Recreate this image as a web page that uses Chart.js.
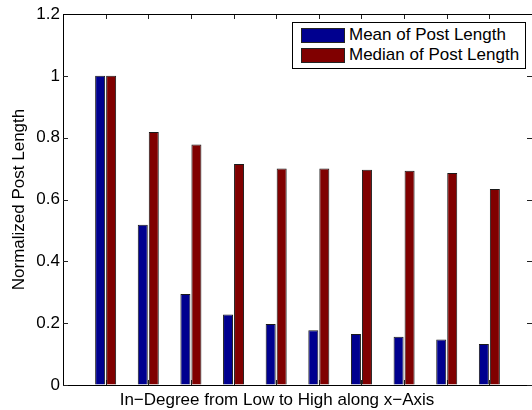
<!DOCTYPE html>
<html lang="en">
<head>
    <meta charset="UTF-8">
    <title>Normalized Post Length</title>
    <script src="https://cdn.jsdelivr.net/npm/chart.js"></script>
    <style>
        body { margin: 0; background: #fff; }
        .wrap { position: relative; width: 532px; height: 410px; }
        #legend {
            position: absolute;
            left: 292px;
            top: 22px;
            width: 234px;
            height: 47px;
            box-sizing: border-box;
            border: 1px solid #000;
            background: #fff;
            padding-top: 2px;
            font: 17px "Liberation Sans", Arial, sans-serif;
            color: #000;
        }
        .legend-row { display: flex; align-items: center; height: 20px; line-height: 20px; }
        .legend-swatch { width: 44px; height: 15px; box-sizing: border-box; border: 1px solid #222; margin: 0 4px 0 8px; }
    </style>
</head>
<body>
    <div class="wrap">
        <canvas id="chart"></canvas>
        <div id="legend"></div>
    </div>

    <script>
        // values
        const categories = ['1', '2', '3', '4', '5', '6', '7', '8', '9', '10'];
        const meanLength = [1.0, 0.518, 0.294, 0.228, 0.197, 0.177, 0.165, 0.156, 0.147, 0.133];
        const medianLength = [1.0, 0.818, 0.778, 0.715, 0.700, 0.700, 0.696, 0.693, 0.686, 0.634];
        const yTicks = [0, 0.2, 0.4, 0.6, 0.8, 1, 1.2];

        Chart.defaults.font.family = '"Liberation Sans", Arial, sans-serif';
        Chart.defaults.font.size = 17;
        Chart.defaults.color = '#000';

        // empty slot at each end so the axis runs from 0 to 11 like the MATLAB one
        const labels = [''].concat(categories, ['']);
        const pad = arr => [null].concat(arr, [null]);

        // MATLAB style box: top line and inward tick marks
        const axisBox = {
            id: 'axisBox',
            beforeDatasetsDraw(chart) {
                const {ctx, chartArea: a, scales: {x, y}} = chart;
                ctx.save();
                ctx.strokeStyle = '#222';
                ctx.lineWidth = 1;
                ctx.beginPath();
                y.ticks.forEach(t => {
                    const py = Math.round(y.getPixelForValue(t.value)) + 0.5;
                    ctx.moveTo(a.left, py); ctx.lineTo(a.left + 5, py);
                    ctx.moveTo(a.right, py); ctx.lineTo(a.right - 5, py);
                });
                categories.forEach((c, i) => {
                    const px = Math.round(x.getPixelForValue(i + 1)) + 0.5;
                    ctx.moveTo(px, a.top); ctx.lineTo(px, a.top + 5);
                    ctx.moveTo(px, a.bottom); ctx.lineTo(px, a.bottom - 5);
                });
                ctx.stroke();
                ctx.strokeStyle = '#000';
                ctx.beginPath();
                ctx.moveTo(a.left, a.top + 0.5);
                ctx.lineTo(a.right, a.top + 0.5);
                ctx.stroke();

                ctx.fillStyle = '#000';
                ctx.font = '17px "Liberation Sans", Arial, sans-serif';
                ctx.textAlign = 'center';
                ctx.textBaseline = 'alphabetic';
                ctx.fillText('In\u2212Degree from Low to High along x\u2212Axis', 277, 405);
                ctx.restore();
            }
        };

        const chart = new Chart(document.getElementById('chart'), {
            type: 'bar',
            data: {
                labels: labels,
                datasets: [{
                    label: 'Mean of Post Length',
                    data: pad(meanLength),
                    backgroundColor: '#00008f',
                    borderColor: '#1a1a1a',
                    borderWidth: 1
                }, {
                    label: 'Median of Post Length',
                    data: pad(medianLength),
                    backgroundColor: '#800000',
                    borderColor: '#1a1a1a',
                    borderWidth: 1
                }]
            },
            options: {
                responsive: true,
                maintainAspectRatio: false,
                animation: false,
                categoryPercentage: 0.516,
                barPercentage: 0.91,
                layout: { padding: { top: 14, left: 0, right: 0, bottom: 0 } },
                plugins: {
                    legend: { display: false },
                    tooltip: { enabled: false }
                },
                scales: {
                    x: {
                        offset: false,
                        ticks: { display: false },
                        grid: { display: false },
                        border: { display: true, color: '#000', width: 1 },
                        afterFit: s => { s.height = 25; }
                    },
                    y: {
                        min: 0,
                        max: 1.2,
                        afterBuildTicks: s => { s.ticks = yTicks.map(v => ({ value: v })); },
                        ticks: {
                            padding: 3,
                            color: '#000',
                            callback: v => String(Math.round(v * 10) / 10)
                        },
                        grid: { display: true, drawOnChartArea: false, drawTicks: false },
                        border: { display: true, color: '#000', width: 1 },
                        title: {
                            display: true,
                            text: 'Normalized Post Length',
                            padding: { top: 9, bottom: 0 },
                            font: { size: 17 }
                        },
                        afterFit: s => { s.width = 63; }
                    }
                }
            },
            plugins: [axisBox]
        });

        // legend box inside the plot, built from the datasets
        const legendDiv = document.getElementById('legend');
        chart.data.datasets.forEach(ds => {
            const row = document.createElement('div');
            row.className = 'legend-row';
            row.innerHTML = `<span class="legend-swatch" style="background:${ds.backgroundColor}"></span><span>${ds.label}</span>`;
            legendDiv.appendChild(row);
        });
    </script>
</body>
</html>
